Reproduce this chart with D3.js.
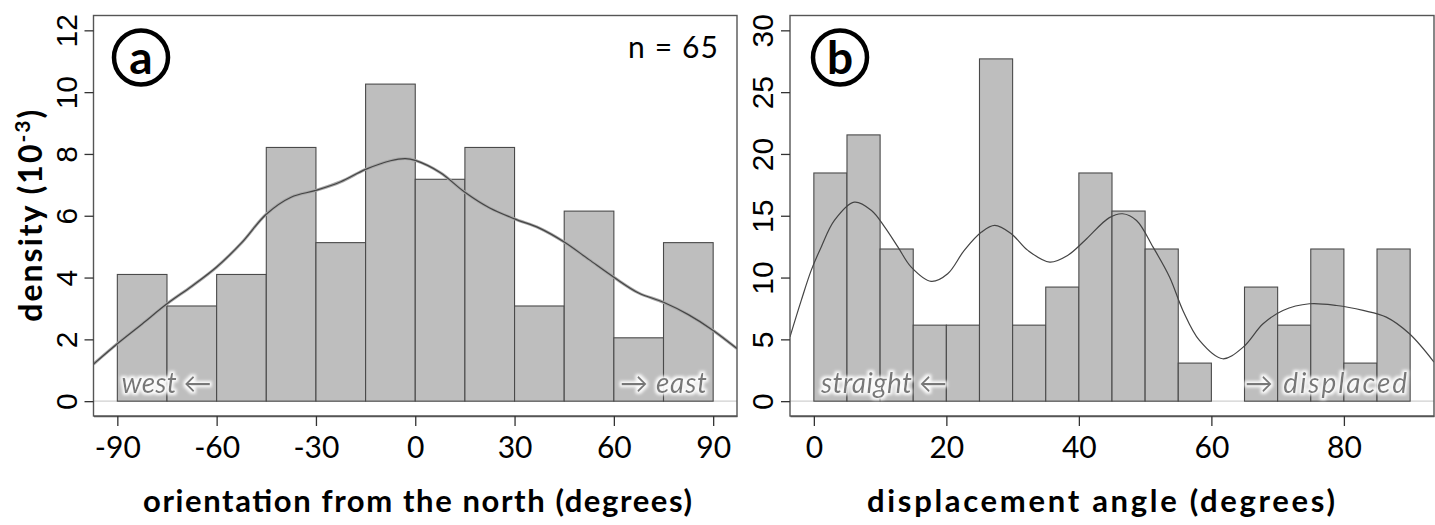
<!DOCTYPE html>
<html><head><meta charset="utf-8">
<script src="https://cdn.jsdelivr.net/npm/d3@7"></script>
<style>
html,body{margin:0;padding:0;background:#fff;}
svg{display:block;font-family:Lato,"Open Sans","DejaVu Sans",sans-serif;}
</style></head><body>
<svg id="chart" width="1435" height="525"></svg>
<script>
// ---------- data ----------
// panel a: orientation from the north (degrees)
const binStartA = [-90,-75,-60,-45,-30,-15,0,15,30,45,60,75];
const binWidthA = 15;
const densityA = [4.10,3.08,4.10,8.21,5.13,10.26,7.18,8.21,3.08,6.15,2.05,5.13];
const kdeXA = [-97.2,-90,-82.5,-75,-67.5,-60,-52.5,-45,-37.5,-30,-22.5,-15,-7.5,-3,0,7.5,15,22.5,30,37.5,45,52.5,60,67.5,75,82.5,90,97.2];
const kdeYA = [1.20,1.86,2.50,3.15,3.72,4.34,5.12,6.05,6.60,6.82,7.10,7.50,7.78,7.85,7.79,7.40,6.76,6.25,5.90,5.60,5.15,4.58,4.01,3.50,3.20,2.80,2.29,1.70];
const xTicksA = [-90,-60,-30,0,30,60,90];
const yTicksA = [0,2,4,6,8,10,12];

// panel b: displacement angle (degrees)
const binStartB = [0,5,10,15,20,25,30,35,40,45,50,55,60,65,70,75,80,85];
const binWidthB = 5;
const densityB = [18.46,21.54,12.31,6.15,6.15,27.69,6.15,9.23,18.46,15.38,12.31,3.08,0,9.23,6.15,12.31,3.08,12.31];
const kdeXB = [-3.6,-1.9,-0.4,1.1,3.1,6.1,8.7,10.7,12.7,14.7,17.7,20.2,22.7,25.3,27.3,29.8,32.3,35.6,38.3,40.9,44.6,46.6,48.7,51.2,53.7,55.7,58.2,61.7,64.8,67.8,70.8,74.8,78.9,82.9,86.4,89.9,93.6];
const kdeYB = [5.2,8.15,10.58,12.46,14.62,16.1,15.43,14.08,12.46,10.84,9.69,10.31,12.2,13.68,14.22,13.55,12.2,11.25,11.79,13.0,14.85,15.16,14.62,12.46,10.03,7.34,4.91,3.43,4.37,6.26,7.34,7.88,7.74,7.34,6.80,5.45,3.16];
const xTicksB = [0,20,40,60,80];
const yTicksB = [0,5,10,15,20,25,30];

// ---------- drawing ----------
const svg = d3.select("#chart");
const defs = svg.append("defs");
const f = defs.append("filter").attr("id","glow").attr("x","-20%").attr("y","-60%").attr("width","140%").attr("height","220%");
f.append("feMorphology").attr("in","SourceAlpha").attr("operator","dilate").attr("radius",1.6).attr("result","d");
f.append("feGaussianBlur").attr("in","d").attr("stdDeviation",1.6).attr("result","b");
f.append("feFlood").attr("flood-color","#ffffff").attr("flood-opacity",0.95);
f.append("feComposite").attr("in2","b").attr("operator","in").attr("result","g");
const fm = f.append("feMerge");
fm.append("feMergeNode").attr("in","g");
fm.append("feMergeNode").attr("in","SourceGraphic");

const TOP = 15.5, BOTTOM = 416;
const BOX = "#555", BAR = "#bebebe";

function panel(o){
  const x = d3.scaleLinear().domain(o.xdom).range([o.left,o.right]);
  const y = d3.scaleLinear().domain(o.ydom).range([BOTTOM,TOP]);
  const g = svg.append("g");
  const clipId = "clip"+o.id;
  defs.append("clipPath").attr("id",clipId).append("rect")
    .attr("x",o.left).attr("y",TOP).attr("width",o.right-o.left).attr("height",BOTTOM-TOP);

  // zero line
  g.append("line").attr("x1",o.left).attr("x2",o.right).attr("y1",y(0)).attr("y2",y(0))
    .attr("stroke","#d0d0d0").attr("stroke-width",1.2);

  // bars
  g.selectAll("rect.bar").data(o.bins.map((b,i)=>({x0:b,x1:b+o.bw,v:o.dens[i]})).filter(d=>d.v>0))
    .join("rect").attr("class","bar")
    .attr("x",d=>x(d.x0)).attr("width",d=>x(d.x1)-x(d.x0))
    .attr("y",d=>y(d.v)).attr("height",d=>y(0)-y(d.v))
    .attr("fill",BAR).attr("stroke","#4a4a4a").attr("stroke-width",1.1);

  // kde
  const line = d3.line().x(d=>x(d[0])).y(d=>y(d[1])).curve(d3.curveCatmullRom);
  const pts = o.kx.map((v,i)=>[v,o.ky[i]]);
  const cg = g.append("g").attr("clip-path",`url(#${clipId})`);
  if(o.halo) cg.append("path").attr("d",line(pts)).attr("fill","none").attr("stroke","#a8a8a8").attr("stroke-width",3);
  cg.append("path").attr("d",line(pts)).attr("fill","none").attr("stroke","#444").attr("stroke-width",1.2);

  // box
  g.append("rect").attr("x",o.left).attr("y",TOP).attr("width",o.right-o.left).attr("height",BOTTOM-TOP)
    .attr("fill","none").attr("stroke",BOX).attr("stroke-width",1.4);

  // x axis
  const xa = g.append("g").attr("transform",`translate(0,${BOTTOM})`)
    .call(d3.axisBottom(x).tickValues(o.xt).tickSize(10).tickSizeOuter(0).tickPadding(11).tickFormat(d3.format("d")));
  xa.select(".domain").attr("stroke",BOX).attr("stroke-width",1.4);
  xa.selectAll(".tick line").attr("stroke","#333").attr("stroke-width",1.3);
  xa.selectAll(".tick text").attr("font-size",30).attr("fill","#000").attr("font-family","Lato,sans-serif")
    .text(d=>String(d).replace("-","-"));

  // y axis
  const ya = g.append("g").attr("transform",`translate(${o.left},0)`)
    .call(d3.axisLeft(y).tickValues(o.yt).tickSize(9).tickSizeOuter(0).tickFormat(d3.format("d")));
  ya.select(".domain").remove();
  ya.selectAll(".tick line").attr("stroke","#333").attr("stroke-width",1.3);
  ya.selectAll(".tick text").attr("font-size",30).attr("fill","#000")
    .attr("x",0).attr("dy",0).attr("text-anchor","middle")
    .attr("transform",`translate(-17,0) rotate(-90)`);

  // circled letter
  g.append("circle").attr("cx",o.cx).attr("cy",57.5).attr("r",27)
    .attr("fill","none").attr("stroke","#000").attr("stroke-width",4.5);
  g.append("text").attr("x",o.cx).attr("y",57.5).attr("dy","0.36em").attr("text-anchor","middle")
    .attr("font-size",46).attr("font-weight","bold").text(o.letter);

  // x title
  g.append("text").attr("x",o.tcx).attr("y",512).attr("text-anchor","middle")
    .attr("font-size",31).attr("font-weight","bold")
    .attr("textLength",o.tlen).attr("lengthAdjust","spacing").text(o.xtitle);

  // direction annotations
  const ann = g.append("g").attr("filter","url(#glow)").attr("font-size",28).attr("font-style","italic").attr("fill","#777");
  ann.append("text").attr("x",o.left+o.annLpad).attr("y",393).attr("text-anchor","start")
    .attr("textLength",o.annLlen).attr("lengthAdjust","spacing").text(o.annL);
  ann.append("text").attr("x",o.right-o.annRpad).attr("y",393).attr("text-anchor","end")
    .attr("textLength",o.annRlen).attr("lengthAdjust","spacing").text(o.annR);
  return {x,y,g};
}

panel({id:"a",left:93.5,right:737,xdom:[-97.2,97.2],ydom:[-0.48,12.48],
  bins:binStartA,bw:binWidthA,dens:densityA,kx:kdeXA,ky:kdeYA,xt:xTicksA,yt:yTicksA,halo:true,
  cx:141,letter:"a",xtitle:"orientation from the north (degrees)",tcx:417.5,tlen:549,
  annL:"west ←",annLpad:28,annLlen:90,annR:"→ east",annRpad:30,annRlen:87});
panel({id:"b",left:790,right:1434,xdom:[-3.6,93.6],ydom:[-1.2,31.2],
  bins:binStartB,bw:binWidthB,dens:densityB,kx:kdeXB,ky:kdeYB,xt:xTicksB,yt:yTicksB,halo:false,
  cx:840,letter:"b",xtitle:"displacement angle (degrees)",tcx:1101,tlen:468,
  annL:"straight ←",annLpad:31,annLlen:126,annR:"→ displaced",annRpad:27,annRlen:162});

// n label
svg.append("text").attr("x",718).attr("y",58).attr("text-anchor","end").attr("font-size",30)
  .attr("textLength",90).attr("lengthAdjust","spacing").text("n = 65");

// y title
const yt = svg.append("text").attr("transform","translate(42,215.7) rotate(-90)").attr("text-anchor","middle")
  .attr("font-size",32).attr("font-weight","bold").attr("textLength",212).attr("lengthAdjust","spacing");
yt.append("tspan").text("density (10");
yt.append("tspan").attr("font-size",21).attr("dy",-12).text("-3");
yt.append("tspan").attr("dy",12).text(")");
</script>
</body></html>
